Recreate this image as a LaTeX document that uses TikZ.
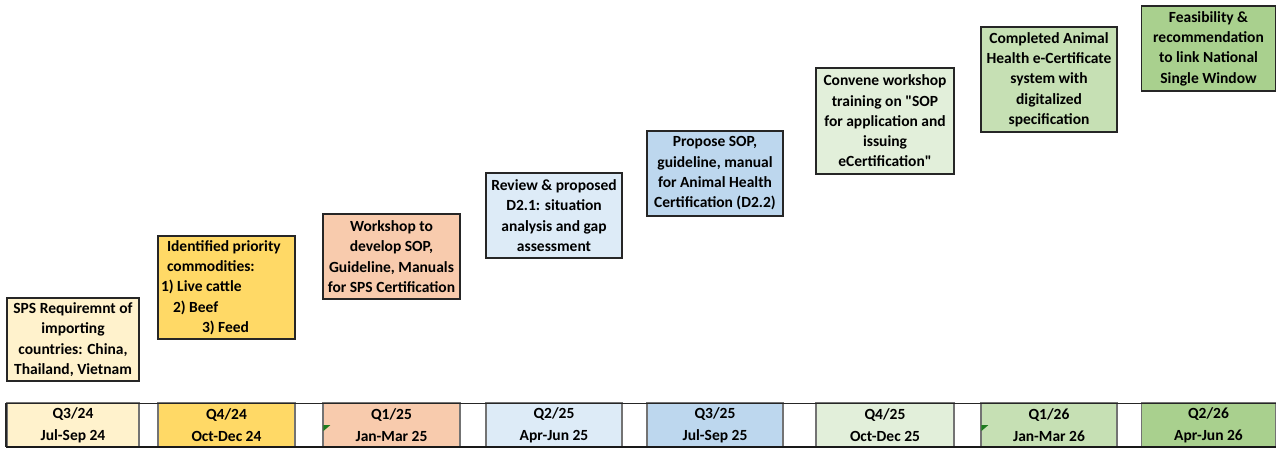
\documentclass[tikz,border=0pt]{standalone}
\usepackage{fontspec}
\setmainfont{Carlito}[Ligatures=TeXOff]
\definecolor{cA}{HTML}{FFF2CC}
\definecolor{cB}{HTML}{FFD966}
\definecolor{cC}{HTML}{F8CBAD}
\definecolor{cD}{HTML}{DDEBF7}
\definecolor{cE}{HTML}{BDD7EE}
\definecolor{cF}{HTML}{E2EFDA}
\definecolor{cG}{HTML}{C6E0B4}
\definecolor{cH}{HTML}{A9D08E}
\definecolor{tri}{HTML}{1E7B1E}
\tikzset{
  tbox/.style={draw=black!85, line width=1.6pt, rectangle, inner sep=0pt, align=center,
    font=\fontsize{15.5}{20.3}\selectfont\bfseries},
  cell/.style={draw=black!55, line width=1.2pt, rectangle, inner sep=0pt, align=center,
    minimum height=44, font=\fontsize{15.5}{22}\selectfont\bfseries},
  marker/.style={fill=tri, draw=none}
}
\begin{document}
\begin{tikzpicture}[x=1pt,y=-1pt]
\useasboundingbox (0,0) rectangle (1276,448);
% milestone boxes
\node[tbox, fill=cA, minimum width=132, minimum height=83] (sps) at (73,339.5)
  {SPS Requiremnt of\\importing\\countries: China,\\Thailand, Vietnam};
\node[tbox, fill=cB, minimum width=137, minimum height=103, text width=131, align=flush left, inner xsep=3pt] (prio) at (226.5,287.5)
  {\hspace*{6pt}Identified priority\\\hspace*{6pt}commodities:\\1) Live cattle\\\hspace*{12pt}2) Beef\\\hspace*{41pt}3) Feed};
\node[tbox, fill=cC, minimum width=137, minimum height=85] (ws) at (391.5,256.5)
  {Workshop to\\develop SOP,\\Guideline, Manuals\\for SPS Certification};
\node[tbox, fill=cD, minimum width=136, minimum height=85] (rev) at (554,215.5)
  {Review \& proposed\\D2.1: situation\\analysis and gap\\assessment};
\node[tbox, fill=cE, minimum width=136, minimum height=85] (prop) at (715,173.5)
  {Propose SOP,\\guideline, manual\\for Animal Health\\Certification (D2.2)};
\node[tbox, fill=cF, minimum width=138, minimum height=106] (conv) at (885,121)
  {Convene workshop\\training on "SOP\\for application and\\issuing\\eCertification"};
\node[tbox, fill=cG, minimum width=136, minimum height=105] (comp) at (1049,79.5)
  {Completed Animal\\Health e-Certificate\\system with\\digitalized\\specification};
\node[tbox, fill=cH, minimum width=134, minimum height=85] (feas) at (1208.5,48.5)
  {Feasibility \&\\recommendation\\to link National\\Single Window};
% timeline row
\node[cell, fill=cA, minimum width=132] (q1) at (73,425) {Q3/24\\Jul-Sep 24};
\node[cell, fill=cB, minimum width=137] (q2) at (226.5,425) {Q4/24\\Oct-Dec 24};
\node[cell, fill=cC, minimum width=137] (q3) at (391.5,425) {Q1/25\\Jan-Mar 25};
\node[cell, fill=cD, minimum width=136] (q4) at (554,425) {Q2/25\\Apr-Jun 25};
\node[cell, fill=cE, minimum width=136] (q5) at (715,425) {Q3/25\\Jul-Sep 25};
\node[cell, fill=cF, minimum width=138] (q6) at (885,425) {Q4/25\\Oct-Dec 25};
\node[cell, fill=cG, minimum width=136] (q7) at (1049,425) {Q1/26\\Jan-Mar 26};
\node[cell, fill=cH, minimum width=134] (q8) at (1208.5,425) {Q2/26\\Apr-Jun 26};
\coordinate (tl) at (6,403);
\coordinate (tr) at (1276,403);
\coordinate (bl) at (6,447);
\coordinate (br) at (1276,447);
\draw[black!85, line width=1pt] (tl) -- (tr);
\draw[black!90, line width=2pt] (bl) -- (br);
\draw[black!85, line width=1.2pt] (tl) -- (bl);
% green indicators
\fill[marker] ([xshift=1pt]q3.west) -- ++(7,0) -- ++(-7,6) -- cycle;
\fill[marker] ([xshift=1pt]q7.west) -- ++(7,0) -- ++(-7,6) -- cycle;
\end{tikzpicture}
\end{document}
